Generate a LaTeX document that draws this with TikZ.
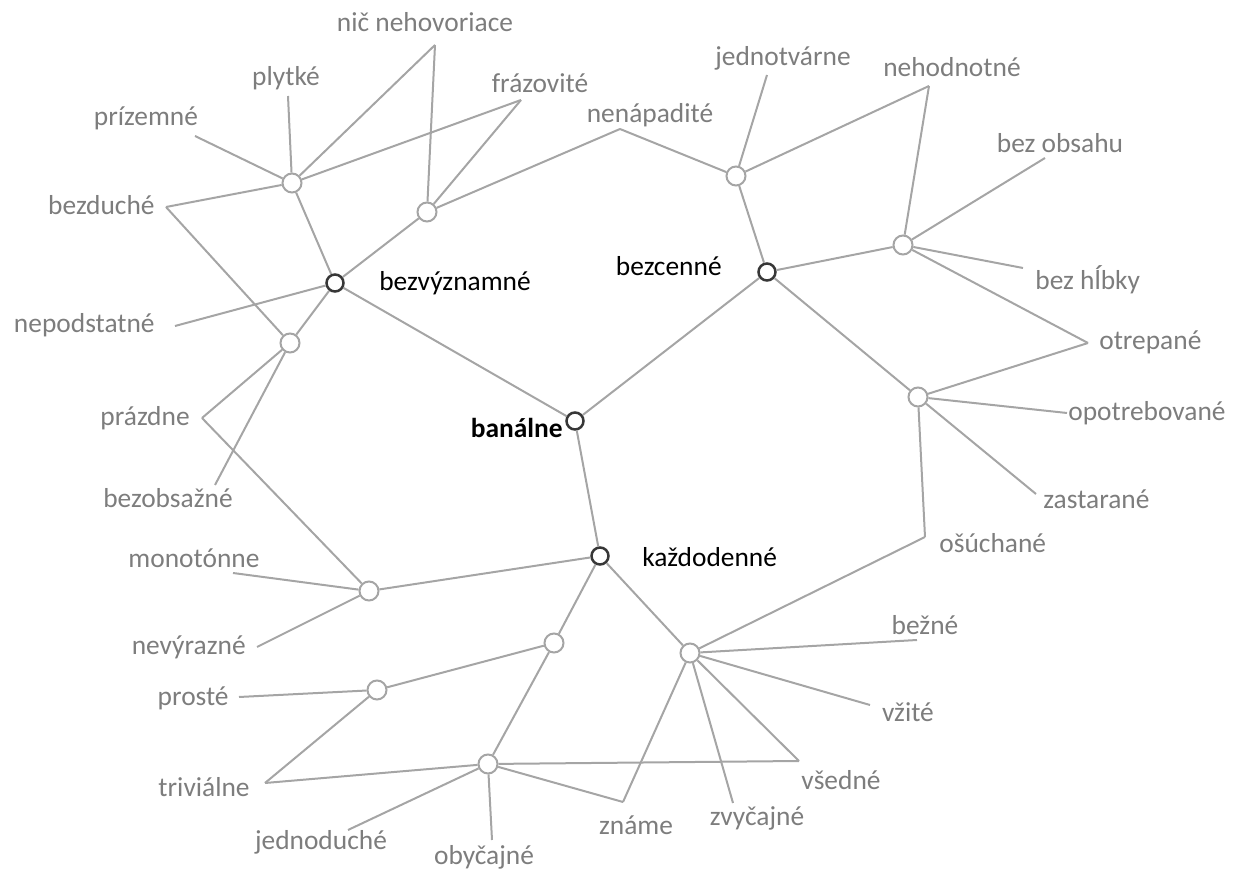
\documentclass[tikz,border=0pt]{standalone}
\usepackage{fontspec}
\setmainfont{Carlito}
\usepackage{tikz}
\definecolor{linegray}{RGB}{165,165,165}
\definecolor{textgray}{RGB}{125,125,125}
\definecolor{hubgray}{RGB}{55,55,55}
\definecolor{subgray}{RGB}{165,165,165}
\pgfkeys{tikz/myhub/.style={circle, draw=hubgray, line width=0.5mm, fill=white, inner sep=0pt, minimum size=3.4mm}}
\pgfkeys{tikz/mysub/.style={circle, draw=subgray, line width=0.4mm, fill=white, inner sep=0pt, minimum size=3.8mm}}
\pgfkeys{tikz/myword/.style={text=textgray, inner sep=0pt, font=\fontsize{15.6}{18}\selectfont}}
\pgfkeys{tikz/myhubword/.style={text=black, inner sep=0pt, font=\fontsize{15.6}{18}\selectfont}}
\pgfkeys{tikz/mylines/.style={draw=linegray, line width=0.4mm}}
\begin{document}
\begin{tikzpicture}[x=0.2mm,y=-0.2mm]
\useasboundingbox (0,0) rectangle (1245,869);
\node[myhub] (ban) at (575,421) {};
\node[myhub] (bvz) at (335,283) {};
\node[myhub] (bcn) at (767,272) {};
\node[myhub] (kzd) at (600,556) {};
\node[myhubword, font=\fontsize{15.6}{18}\selectfont\bfseries, anchor=east] (ban-t) at (563,428) {banálne};
\node[myhubword, anchor=west] (bvz-t) at (379,283) {bezvýznamné};
\node[myhubword, anchor=east] (bcn-t) at (722,266) {bezcenné};
\node[myhubword, anchor=west] (kzd-t) at (642,557) {každodenné};
\node[mysub] (a) at (292,183) {};
\node[mysub] (b) at (427,212) {};
\node[mysub] (c) at (290,343) {};
\node[mysub] (d) at (736,176) {};
\node[mysub] (e) at (903,245) {};
\node[mysub] (f) at (918,397) {};
\node[mysub] (g) at (369,591) {};
\node[mysub] (h) at (554,643) {};
\node[mysub] (i) at (377,690) {};
\node[mysub] (j) at (488,764) {};
\node[mysub] (k) at (690,653) {};
\coordinate (nic) at (435,45);
\coordinate (plyt) at (288,96);
\coordinate (fraz) at (521,100);
\coordinate (prizem) at (195,136);
\coordinate (nenap) at (620,129);
\coordinate (bezduch) at (166,207);
\coordinate (nepod) at (175,326);
\coordinate (prazd) at (202,418);
\coordinate (bezobs) at (215,485);
\coordinate (monot) at (233,573);
\coordinate (nevyr) at (257,647);
\coordinate (prost) at (239,697);
\coordinate (trivi) at (265,783);
\coordinate (jednod) at (348,830);
\coordinate (obyc) at (492,840);
\coordinate (znam) at (623,802);
\coordinate (vsed) at (799,761);
\coordinate (zvyc) at (733,803);
\coordinate (vzit) at (870,705);
\coordinate (bezn) at (917,640);
\coordinate (osuch) at (925,537);
\coordinate (zastar) at (1036,494);
\coordinate (opotr) at (1067,413);
\coordinate (otrep) at (1088,343);
\coordinate (bezhl) at (1023,268);
\coordinate (bezobsah) at (1045,158);
\coordinate (nehod) at (929,86);
\coordinate (jednot) at (767,75);
\node[myword] (nic-t) at (425,22) {nič nehovoriace};
\node[myword] (plyt-t) at (286,78) {plytké};
\node[myword] (fraz-t) at (540,83) {frázovité};
\node[myword] (prizem-t) at (146,118) {prízemné};
\node[myword] (nenap-t) at (650,115) {nenápadité};
\node[myword, anchor=east] (bezduch-t) at (155,205) {bezduché};
\node[myword, anchor=east] (nepod-t) at (155,325) {nepodstatné};
\node[myword, anchor=east] (prazd-t) at (190,418) {prázdne};
\node[myword] (bezobs-t) at (168,498) {bezobsažné};
\node[myword] (monot-t) at (194,558) {monotónne};
\node[myword, anchor=east] (nevyr-t) at (246,647) {nevýrazné};
\node[myword, anchor=east] (prost-t) at (229,698) {prosté};
\node[myword, anchor=east] (trivi-t) at (250,787) {triviálne};
\node[myword] (jednod-t) at (321,842) {jednoduché};
\node[myword] (obyc-t) at (484,857) {obyčajné};
\node[myword] (znam-t) at (636,825) {známe};
\node[myword] (zvyc-t) at (757,818) {zvyčajné};
\node[myword] (vsed-t) at (841,780) {všedné};
\node[myword] (vzit-t) at (908,712) {vžité};
\node[myword] (bezn-t) at (925,625) {bežné};
\node[myword, anchor=west] (osuch-t) at (939,543) {ošúchané};
\node[myword, anchor=west] (zastar-t) at (1043,499) {zastarané};
\node[myword, anchor=west] (opotr-t) at (1068,413) {opotrebované};
\node[myword, anchor=west] (otrep-t) at (1099,342) {otrepané};
\node[myword, anchor=west] (bezhl-t) at (1035,280) {bez hĺbky};
\node[myword] (bezobsah-t) at (1060,143) {bez obsahu};
\node[myword] (nehod-t) at (952,67) {nehodnotné};
\node[myword] (jednot-t) at (783,58) {jednotvárne};
\draw[mylines] (ban) -- (bvz) (ban) -- (bcn) (ban) -- (kzd);
\draw[mylines] (bvz) -- (a) (bvz) -- (b) (bvz) -- (c) (bvz) -- (nepod);
\draw[mylines] (a) -- (prizem) (a) -- (plyt) (a) -- (nic) (a) -- (fraz) (a) -- (bezduch);
\draw[mylines] (b) -- (nic) (b) -- (fraz) (b) -- (nenap);
\draw[mylines] (c) -- (bezduch) (c) -- (prazd) (c) -- (bezobs);
\draw[mylines] (bcn) -- (d) (bcn) -- (e) (bcn) -- (f);
\draw[mylines] (d) -- (nenap) (d) -- (jednot) (d) -- (nehod);
\draw[mylines] (e) -- (nehod) (e) -- (bezobsah) (e) -- (bezhl) (e) -- (otrep);
\draw[mylines] (f) -- (otrep) (f) -- (opotr) (f) -- (zastar) (f) -- (osuch);
\draw[mylines] (kzd) -- (g) (kzd) -- (h) (kzd) -- (k);
\draw[mylines] (g) -- (prazd) (g) -- (monot) (g) -- (nevyr);
\draw[mylines] (h) -- (i) (h) -- (j);
\draw[mylines] (i) -- (prost) (i) -- (trivi);
\draw[mylines] (j) -- (trivi) (j) -- (jednod) (j) -- (obyc) (j) -- (znam) (j) -- (vsed);
\draw[mylines] (k) -- (osuch) (k) -- (bezn) (k) -- (vzit) (k) -- (vsed) (k) -- (zvyc) (k) -- (znam);
\end{tikzpicture}
\end{document}
